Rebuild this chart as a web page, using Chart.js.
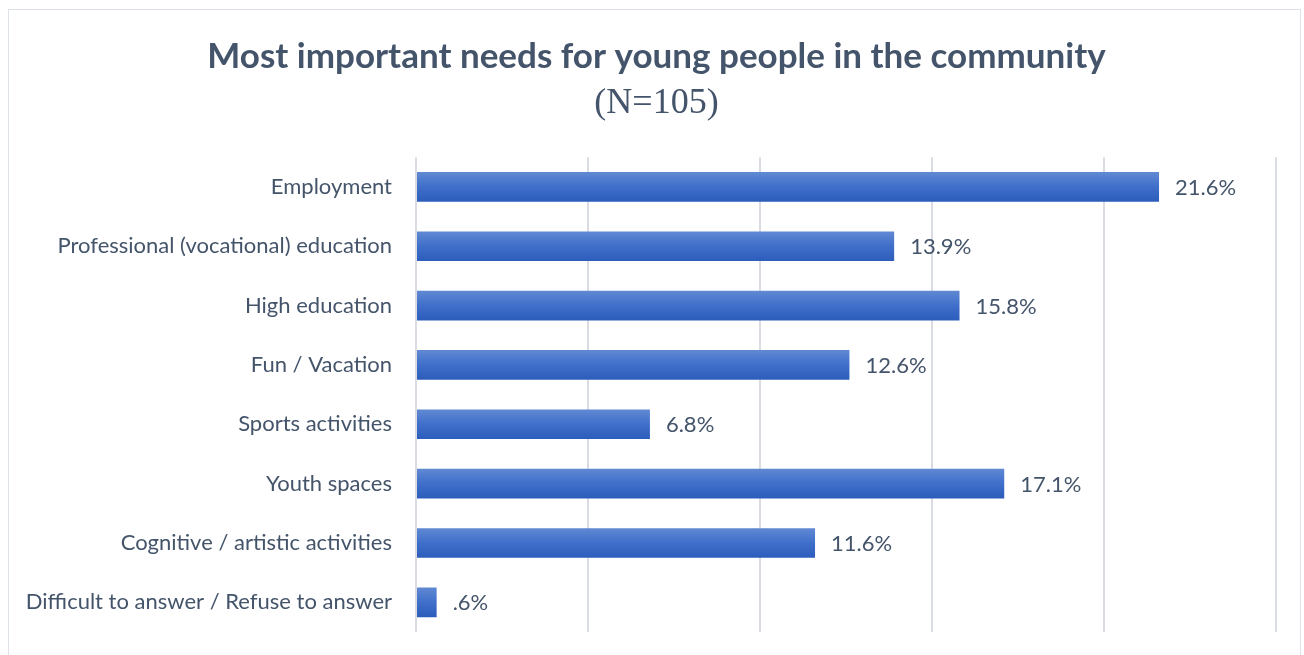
<!DOCTYPE html>
<html>
<head>
<meta charset="utf-8">
<script src="https://cdn.jsdelivr.net/npm/chart.js@4/dist/chart.umd.min.js"></script>
<style>
  html, body { margin: 0; padding: 0; background: #fff; overflow: hidden; }
  #wrap { position: absolute; left: 8px; top: 9px; width: 1291px; height: 660px; border: 1px solid #dde2e8; background: #fff; }
  canvas { display: block; }
</style>
</head>
<body>
<div id="wrap"><canvas id="c" width="1291" height="646"></canvas></div>
<script>
const titleText = "Most important needs for young people in the community";
const subtitleText = "(N=105)";
const categories = [
  "Employment",
  "Professional (vocational) education",
  "High education",
  "Fun / Vacation",
  "Sports activities",
  "Youth spaces",
  "Cognitive / artistic activities",
  "Difficult to answer / Refuse to answer"
];
const values = [21.6, 13.9, 15.8, 12.6, 6.8, 17.1, 11.6, 0.6];
const axisMin = 0, axisMax = 25, axisStep = 5;

const textColor = "#44546a";

function fmt(v) {
  let s = v.toFixed(1);
  if (s.startsWith("0.")) s = s.slice(1);
  return s + "%";
}

const gradientPlugin = {
  id: "barGradient",
  beforeDatasetsDraw(chart) {
    const ctx = chart.ctx;
    chart.getDatasetMeta(0).data.forEach(el => {
      const top = el.y - el.height / 2, bot = el.y + el.height / 2;
      const g = ctx.createLinearGradient(0, top, 0, bot);
      g.addColorStop(0, "#6189d3");
      g.addColorStop(0.5, "#3f6fca");
      g.addColorStop(1, "#2d5dbb");
      el.options.backgroundColor = g;
    });
  }
};

// shift the title blocks so they are centred like the reference
const titleShift = {
  id: "titleShift",
  afterLayout(chart) {
    chart.boxes.forEach(b => {
      if (b.position === "top" && b.options && b.options.text !== undefined) {
        b.left += 8; b.right += 8;
      }
    });
  }
};

const labelPlugin = {
  id: "valueLabels",
  afterDatasetsDraw(chart) {
    const ctx = chart.ctx;
    ctx.save();
    ctx.font = "22px Lato";
    ctx.fillStyle = textColor;
    ctx.textAlign = "left";
    ctx.textBaseline = "middle";
    chart.getDatasetMeta(0).data.forEach((el, i) => {
      ctx.fillText(fmt(values[i]), el.x + 16, el.y + 1);
    });
    ctx.restore();
  }
};

new Chart(document.getElementById("c"), {
  type: "bar",
  data: {
    labels: categories,
    datasets: [{
      data: values,
      backgroundColor: () => "#3f6fca",
      borderWidth: 0,
      barPercentage: 0.5,
      categoryPercentage: 1.0
    }]
  },
  options: {
    indexAxis: "y",
    responsive: false,
    animation: false,
    events: [],
    layout: { autoPadding: false, padding: { left: 12, right: 24, top: 0, bottom: 24 } },
    plugins: {
      legend: { display: false },
      tooltip: { enabled: false },
      title: {
        display: true,
        text: titleText,
        color: textColor,
        font: { family: "Lato", size: 35, weight: "bold" },
        padding: { top: 26, bottom: 4 }
      },
      subtitle: {
        display: true,
        text: subtitleText,
        color: textColor,
        font: { family: "Liberation Serif", size: 36, weight: "normal" },
        padding: { top: 0, bottom: 32 }
      }
    },
    scales: {
      x: {
        min: axisMin, max: axisMax,
        afterFit(scale) { scale.height = 0; },
        ticks: { display: false, stepSize: axisStep },
        grid: { color: "#d9dde3", lineWidth: 2, drawTicks: false },
        border: { display: false }
      },
      y: {
        afterFit(scale) {
          scale.width = 395;
          scale.paddingTop = 0;
          scale.paddingBottom = 0;
        },
        grid: { display: false, drawTicks: false },
        border: { display: false },
        ticks: {
          color: textColor,
          padding: 24,
          font: { family: "Lato", size: 22 }
        }
      }
    }
  },
  plugins: [gradientPlugin, titleShift, labelPlugin]
});
</script>
</body>
</html>
